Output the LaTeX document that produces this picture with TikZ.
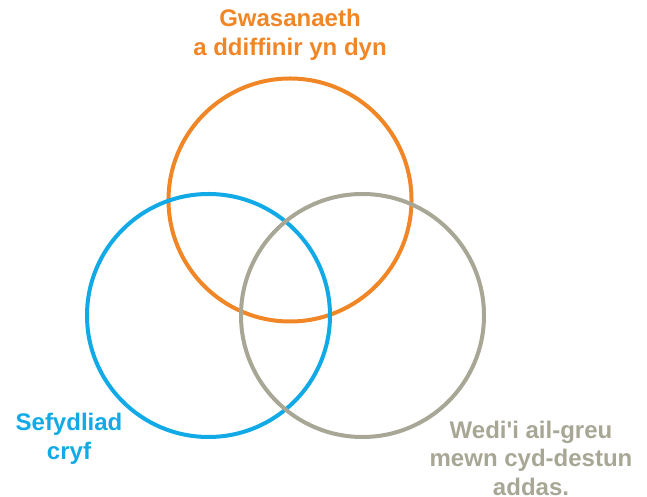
\documentclass[tikz,border=0pt]{standalone}
\usepackage{fontspec}
\setmainfont{Liberation Sans}
\definecolor{vorange}{RGB}{240,134,38}
\definecolor{vblue}{RGB}{18,170,230}
\definecolor{vgrey}{RGB}{168,166,148}

\begin{document}
\begin{tikzpicture}[x=1pt,y=1pt,
	ring/.style={circle,line width=4pt,minimum size=243pt,inner sep=0pt},
	tag/.style={align=center,inner sep=1pt,font=\fontsize{24}{28.5}\selectfont\bfseries}]
	\useasboundingbox (0,0) rectangle (647,497);
	\node[ring,draw=vorange] (service) at (290,297) {};
	\node[ring,draw=vblue] (strong) at (208.5,181.5) {};
	\node[ring,draw=vgrey] (context) at (362.5,181.5) {};
	\node[tag,text=vorange] (serviceTxt) at (290,462) {Gwasanaeth\\a ddiffinir yn dyn};
	\node[tag,text=vblue] (strongTxt) at (69,58) {Sefydliad\\cryf};
	\node[tag,text=vgrey] (contextTxt) at (531,39) {Wedi\textquotesingle i ail-greu\\mewn cyd-destun\\addas.};
\end{tikzpicture}
\end{document}
